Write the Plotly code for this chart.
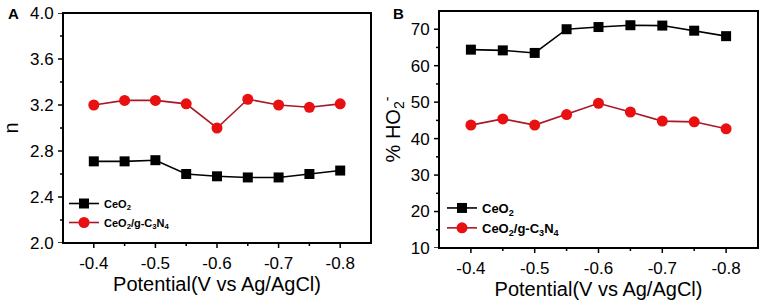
import plotly.graph_objects as go

potential = [-0.40, -0.45, -0.50, -0.55, -0.60, -0.65, -0.70, -0.75, -0.80]
n_ceo2 = [2.71, 2.71, 2.72, 2.60, 2.58, 2.57, 2.57, 2.60, 2.63]
n_ceo2_gcn = [3.20, 3.24, 3.24, 3.21, 3.00, 3.25, 3.20, 3.18, 3.21]
ho2_ceo2 = [64.4, 64.2, 63.5, 70.0, 70.6, 71.1, 71.0, 69.6, 68.1]
ho2_ceo2_gcn = [43.7, 45.4, 43.7, 46.6, 49.7, 47.3, 44.8, 44.6, 42.7]

# ticks; blank labels mark minor ticks
x_ticks = [-0.40, -0.45, -0.50, -0.55, -0.60, -0.65, -0.70, -0.75, -0.80]
x_ticklabels = ["-0.4", "", "-0.5", "", "-0.6", "", "-0.7", "", "-0.8"]
n_ticks = [2.0, 2.2, 2.4, 2.6, 2.8, 3.0, 3.2, 3.4, 3.6, 3.8, 4.0]
n_ticklabels = ["2.0", "", "2.4", "", "2.8", "", "3.2", "", "3.6", "", "4.0"]
ho2_ticks = [10, 15, 20, 25, 30, 35, 40, 45, 50, 55, 60, 65, 70]
ho2_ticklabels = ["10", "", "20", "", "30", "", "40", "", "50", "", "60", "", "70"]
name_ceo2 = "<b>CeO<sub>2</sub></b>"
name_gcn = "<b>CeO<sub>2</sub>/g-C<sub>3</sub>N<sub>4</sub></b>"

BLACK = "#000000"
RED_M = "#e81010"
RED_L = "#a81828"
FONT = "Liberation Sans"

fig = go.Figure()

def add(x, y, name, xa, ya, legend, symbol, mcol, lcol, msize):
    fig.add_trace(go.Scatter(
        x=x, y=y, name=name, xaxis=xa, yaxis=ya, legend=legend,
        mode="lines+markers",
        line=dict(color=lcol, width=1.6),
        marker=dict(symbol=symbol, color=mcol, size=msize, line=dict(width=0)),
    ))

add(potential, n_ceo2, name_ceo2, "x", "y", "legend", "square", BLACK, BLACK, 10)
add(potential, n_ceo2_gcn, name_gcn, "x", "y", "legend", "circle", RED_M, RED_L, 11)
add(potential, ho2_ceo2, name_ceo2, "x2", "y2", "legend2", "square", BLACK, BLACK, 10)
add(potential, ho2_ceo2_gcn, name_gcn, "x2", "y2", "legend2", "circle", RED_M, RED_L, 11)

W, H = 765, 308
ML, MR, MT, MB = 63, 7, 11, 60
PW, PH = W - ML - MR, H - MT - MB


def axis(**kw):
    d = dict(
        showline=False, ticks="outside", ticklen=5, tickwidth=1, tickcolor="rgba(0,0,0,0)",
        showgrid=False, zeroline=False, automargin=False,
        tickfont=dict(size=17, color="black", family=FONT),
    )
    d.update(kw)
    return d


def xaxis(dom, anchor):
    return axis(domain=dom, anchor=anchor, range=[-0.35, -0.85],
                tickmode="array", tickvals=x_ticks, ticktext=x_ticklabels,
                title=dict(text="Potential(V vs Ag/AgCl)", font=dict(size=20, color="black", family=FONT), standoff=4))


# frame and tick marks drawn as shapes through the axes' own scales
shapes = []
for xr, yr, xt, yt, ytl in [("x", "y", x_ticks, n_ticks, n_ticklabels),
                             ("x2", "y2", x_ticks, ho2_ticks, ho2_ticklabels)]:
    shapes.append(dict(type="rect", xref=f"{xr} domain", yref=f"{yr} domain",
                       x0=0, x1=1, y0=0, y1=1, line=dict(color="black", width=2), layer="above"))
    for v, lab in zip(xt, x_ticklabels):
        ln = 5 if lab else 3
        shapes.append(dict(type="line", xref=xr, yref=f"{yr} domain", x0=v, x1=v,
                           ysizemode="pixel", yanchor=0, y0=0, y1=-ln,
                           line=dict(color="black", width=1.5), layer="above"))
    for v, lab in zip(yt, ytl):
        ln = 5 if lab else 3
        shapes.append(dict(type="line", xref=f"{xr} domain", yref=yr, y0=v, y1=v,
                           xsizemode="pixel", xanchor=0, x0=0, x1=-ln,
                           line=dict(color="black", width=1.5), layer="above"))

fig.update_layout(
    width=W, height=H,
    margin=dict(l=ML, r=MR, t=MT, b=MB),
    plot_bgcolor="white", paper_bgcolor="white",
    xaxis=xaxis([0, (371 - ML) / PW], "y"),
    xaxis2=xaxis([(439 - ML) / PW, 1], "y2"),
    yaxis=axis(domain=[1 - (243 - MT) / PH, 1 - (13 - MT) / PH], anchor="x",
               range=[2.0, 4.0], tickmode="array", tickvals=n_ticks, ticktext=n_ticklabels,
               title=dict(text="n", font=dict(size=20, color="black", family=FONT), standoff=8)),
    yaxis2=axis(domain=[0, 1], anchor="x2",
                range=[10, 75], tickmode="array", tickvals=ho2_ticks, ticktext=ho2_ticklabels,
                title=dict(text="% HO<sub>2</sub><sup>-</sup>", font=dict(size=20, color="black", family=FONT), standoff=4)),
    shapes=shapes,
    showlegend=True,
    legend=dict(x=(64 - ML) / PW, y=1 - (189 - MT) / PH, xanchor="left", yanchor="top",
                bgcolor="rgba(0,0,0,0)", font=dict(size=11, color="black", family=FONT),
                tracegroupgap=0),
    legend2=dict(x=(442 - ML) / PW, y=1 - (193 - MT) / PH, xanchor="left", yanchor="top",
                 bgcolor="rgba(0,0,0,0)", font=dict(size=13, color="black", family=FONT),
                 tracegroupgap=0),
    annotations=[
        dict(text="<b>A</b>", x=(6 - ML) / PW, y=1 - (14 - MT) / PH, xref="paper", yref="paper",
             xanchor="left", yanchor="middle", showarrow=False,
             font=dict(size=15, color="black", family=FONT)),
        dict(text="<b>B</b>", x=(391 - ML) / PW, y=1 - (14 - MT) / PH, xref="paper", yref="paper",
             xanchor="left", yanchor="middle", showarrow=False,
             font=dict(size=15, color="black", family=FONT)),
    ],
)

fig.write_html("out.html", config={"displayModeBar": False},
               post_script="document.body.style.margin='0';")
